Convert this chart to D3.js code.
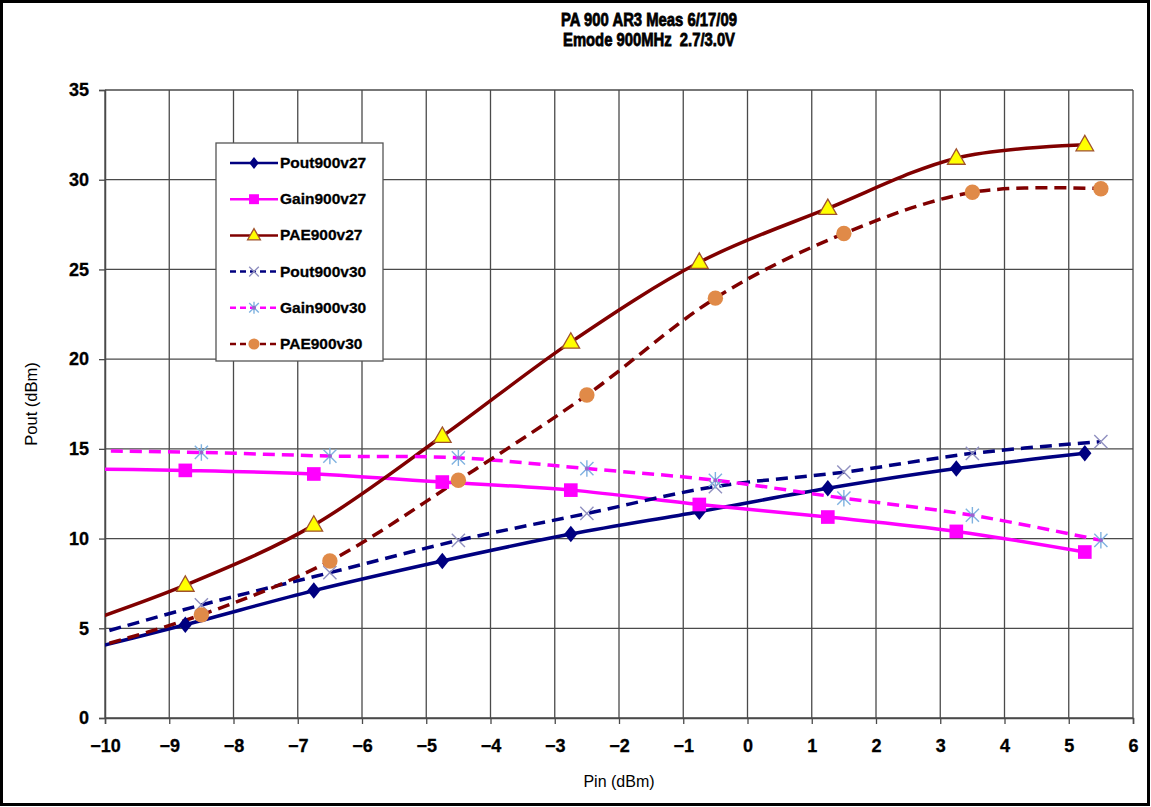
<!DOCTYPE html>
<html>
<head>
<meta charset="utf-8">
<script src="https://cdn.jsdelivr.net/npm/d3@7"></script>
<style>
  html, body { margin: 0; padding: 0; background: #fff; }
  svg { display: block; }
  .bold { font-family: "Liberation Sans", Arial, sans-serif; font-weight: bold; }
</style>
</head>
<body>
<svg id="chart" width="1151" height="807"></svg>
<script>
// Measured sweep: input power (dBm) for each supply voltage
const pin27 = [-10.75, -8.75, -6.75, -4.75, -2.75, -0.75, 1.25, 3.25, 5.25];
const pin30 = [-10.5, -8.5, -6.5, -4.5, -2.5, -0.5, 1.5, 3.5, 5.5];

// 2.7 V series
const pout27 = [3.4, 5.2, 7.1, 8.75, 10.25, 11.5, 12.8, 13.9, 14.75];
const gain27 = [13.9, 13.8, 13.6, 13.15, 12.7, 11.9, 11.2, 10.4, 9.25];
const pae27  = [4.8, 7.4, 10.75, 15.7, 20.95, 25.4, 28.4, 31.2, 31.95];

// 3.0 V series
const pout30 = [4.3, 6.3, 8.1, 9.9, 11.4, 12.9, 13.7, 14.75, 15.4];
const gain30 = [14.9, 14.8, 14.6, 14.5, 13.9, 13.25, 12.25, 11.3, 9.9];
const pae30  = [3.6, 5.75, 8.75, 13.25, 18.0, 23.4, 27.0, 29.3, 29.5];

const xTicks = [-10, -9, -8, -7, -6, -5, -4, -3, -2, -1, 0, 1, 2, 3, 4, 5, 6];
const yTicks = [0, 5, 10, 15, 20, 25, 30, 35];

const titleLines = ["PA 900 AR3 Meas 6/17/09", "Emode 900MHz  2.7/3.0V"];
const xLabel = "Pin (dBm)";
const yLabel = "Pout (dBm)";

const series = [
  { name: "Pout900v27", x: pin27, y: pout27, color: "#000080", dash: null, marker: "diamond" },
  { name: "Gain900v27", x: pin27, y: gain27, color: "#FF00FF", dash: null, marker: "square" },
  { name: "PAE900v27",  x: pin27, y: pae27,  color: "#800000", dash: null, marker: "triangle" },
  { name: "Pout900v30", x: pin30, y: pout30, color: "#000080", dash: "12,7", marker: "cross" },
  { name: "Gain900v30", x: pin30, y: gain30, color: "#FF00FF", dash: "12,7", marker: "star" },
  { name: "PAE900v30",  x: pin30, y: pae30,  color: "#800000", dash: "12,7", marker: "circle" }
];

const svg = d3.select("#chart");

const x = d3.scaleLinear().domain([-10, 6]).range([105, 1133]);
const y = d3.scaleLinear().domain([0, 35]).range([718, 90]);

// outer frame
svg.append("rect").attr("x", 1.5).attr("y", 1.5).attr("width", 1147).attr("height", 803)
  .attr("fill", "#fff").attr("stroke", "#000").attr("stroke-width", 3);

// title (condensed heavy face)
const titleWidths = [176, 172];
svg.append("g").selectAll("text").data(titleLines).join("text")
  .attr("class", "bold")
  .attr("x", 649).attr("y", (d, i) => 26 + i * 20)
  .attr("text-anchor", "middle")
  .attr("font-size", 18.5)
  .attr("stroke", "#000").attr("stroke-width", 0.8)
  .attr("textLength", (d, i) => titleWidths[i])
  .attr("lengthAdjust", "spacingAndGlyphs")
  .style("white-space", "pre")
  .text(d => d);

// grid
const grid = svg.append("g").attr("stroke", "#4a4a4a").attr("stroke-width", 1.3);
grid.selectAll("line.v").data(xTicks).join("line").attr("class", "v")
  .attr("x1", d => x(d)).attr("x2", d => x(d)).attr("y1", y(35)).attr("y2", y(0));
grid.selectAll("line.h").data(yTicks).join("line").attr("class", "h")
  .attr("x1", x(-10)).attr("x2", x(6)).attr("y1", d => y(d)).attr("y2", d => y(d));

// axes
const xAxis = svg.append("g").attr("transform", `translate(0,${y(0)})`)
  .call(d3.axisBottom(x).tickValues(xTicks).tickSize(6).tickPadding(15).tickFormat(d3.format("d")));
const yAxis = svg.append("g").attr("transform", `translate(${x(-10)},0)`)
  .call(d3.axisLeft(y).tickValues(yTicks).tickSize(6).tickPadding(10).tickFormat(d3.format("d")));
[xAxis, yAxis].forEach(a => {
  a.select(".domain").attr("stroke", "#4a4a4a").attr("stroke-width", 1.5);
  a.selectAll(".tick line").attr("stroke", "#4a4a4a").attr("stroke-width", 1.3);
  a.selectAll(".tick text").attr("class", "bold").attr("font-size", 18).attr("fill", "#000")
    .attr("stroke", "#000").attr("stroke-width", 0.3);
});

// axis titles
svg.append("text").attr("x", x(-2)).attr("y", 787).attr("text-anchor", "middle")
  .attr("font-family", "Liberation Sans, Arial, sans-serif").attr("font-size", 16).text(xLabel);
svg.append("text").attr("transform", `translate(37,${y(17.5)}) rotate(-90)`).attr("text-anchor", "middle")
  .attr("font-family", "Liberation Sans, Arial, sans-serif").attr("font-size", 16.5).text(yLabel);

// clip to plot area
svg.append("clipPath").attr("id", "plotClip").append("rect")
  .attr("x", x(-10)).attr("y", y(35) - 12).attr("width", x(6) - x(-10) + 12).attr("height", y(0) - y(35) + 12);

const plot = svg.append("g").attr("clip-path", "url(#plotClip)");

const line = d3.line().curve(d3.curveCatmullRom.alpha(0));

// marker drawing
function drawMarker(g, type, size) {
  const s = size;
  switch (type) {
    case "diamond":
      g.append("path").attr("d", `M0,${-s * 0.75}L${s * 0.6},0L0,${s * 0.75}L${-s * 0.6},0Z`).attr("fill", "#000080");
      break;
    case "square":
      g.append("rect").attr("x", -s * 0.62).attr("y", -s * 0.62).attr("width", s * 1.24).attr("height", s * 1.24).attr("fill", "#FF00FF");
      break;
    case "triangle":
      g.append("path").attr("d", `M0,${-s * 0.85}L${s * 0.8},${s * 0.55}L${-s * 0.8},${s * 0.55}Z`)
        .attr("fill", "#FFFF00").attr("stroke", "#A0522D").attr("stroke-width", 1.3);
      break;
    case "cross":
      g.append("path").attr("d", `M${-s * 0.6},${-s * 0.6}L${s * 0.6},${s * 0.6}M${-s * 0.6},${s * 0.6}L${s * 0.6},${-s * 0.6}`)
        .attr("stroke", "#9090C0").attr("stroke-width", 1.4).attr("fill", "none");
      break;
    case "star":
      g.append("path").attr("d", `M${-s * 0.6},${-s * 0.6}L${s * 0.6},${s * 0.6}M${-s * 0.6},${s * 0.6}L${s * 0.6},${-s * 0.6}M0,${-s * 0.75}L0,${s * 0.75}`)
        .attr("stroke", "#7FB2E0").attr("stroke-width", 1.4).attr("fill", "none");
      g.append("circle").attr("r", 2).attr("fill", "#9966CC");
      break;
    case "circle":
      g.append("circle").attr("r", s * 0.7).attr("fill", "#E08A48");
      break;
  }
}

series.forEach(sr => {
  const pts = sr.x.map((v, i) => [x(v), y(sr.y[i])]);
  plot.append("path").attr("d", line(pts)).attr("fill", "none")
    .attr("stroke", sr.color).attr("stroke-width", 3.5)
    .attr("stroke-dasharray", sr.dash);
});

series.forEach(sr => {
  sr.x.forEach((v, i) => {
    const g = plot.append("g").attr("transform", `translate(${x(v)},${y(sr.y[i])})`);
    drawMarker(g, sr.marker, 11);
  });
});

// legend
const lg = svg.append("g");
lg.append("rect").attr("x", 216).attr("y", 143).attr("width", 167).attr("height", 218)
  .attr("fill", "#fff").attr("stroke", "#555").attr("stroke-width", 1.3);
series.forEach((sr, i) => {
  const ly = 163 + i * 36.2;
  lg.append("line").attr("x1", 230).attr("x2", 278).attr("y1", ly).attr("y2", ly)
    .attr("stroke", sr.color).attr("stroke-width", 2.5).attr("stroke-dasharray", sr.dash ? "6,4" : null);
  const g = lg.append("g").attr("transform", `translate(254,${ly})`);
  drawMarker(g, sr.marker, 8);
  lg.append("text").attr("class", "bold").attr("x", 280).attr("y", ly + 5).attr("font-size", 15.5)
    .attr("stroke", "#000").attr("stroke-width", 0.3).text(sr.name);
});
</script>
</body>
</html>
